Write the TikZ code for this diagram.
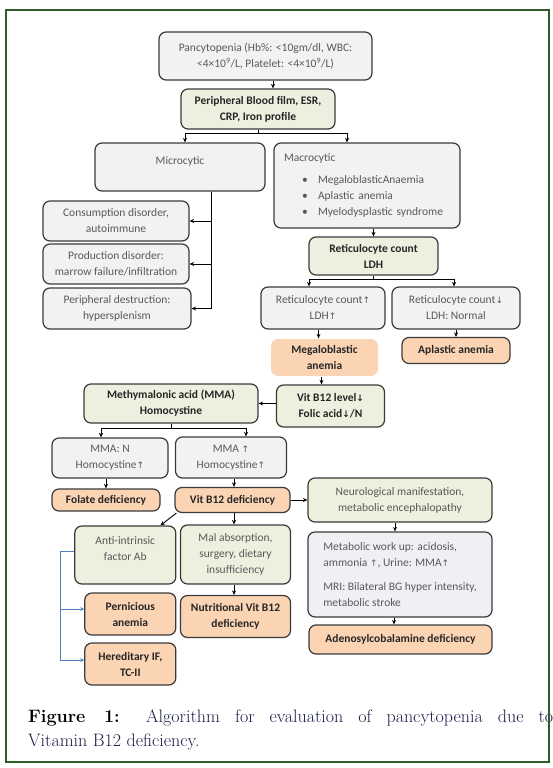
\documentclass[tikz,border=0pt]{standalone}
\usepackage{fontspec}
\newfontfamily\boxfont{Carlito}
\newfontfamily\symfont{DejaVu Sans}
\usetikzlibrary{arrows.meta}

% colours of the chart
\definecolor{framegreen}{HTML}{2F5B28}
\definecolor{boxline}{HTML}{3A3A3A}
\definecolor{boxgrey}{HTML}{F2F2F2}
\definecolor{metabgrey}{HTML}{EEF0F4}
\definecolor{boxgreen}{HTML}{EBF1DE}
\definecolor{boxorange}{HTML}{FBD4B4}
\definecolor{textgrey}{HTML}{595959}
\definecolor{textdark}{HTML}{262626}
\definecolor{linkblue}{HTML}{4F81BD}
\definecolor{capnavy}{HTML}{1A1E48}

% small arrows inside the texts
\newcommand{\uparr}{{\symfont\fontsize{9}{9}\selectfont ↑}}
\newcommand{\downarr}{{\symfont\fontsize{9}{9}\selectfont ↓}}

\tikzset{
    % box size in pixels
    dims/.style 2 args = {minimum width=#1pt, minimum height=#2pt},
    % basic box
    box/.style = {draw=boxline, line width=1.2pt, rounded corners=7pt, align=center, inner sep=2pt,
        font=\boxfont\fontsize{11.5}{16}\selectfont, text=textgrey},
    grey box/.style = {box, fill=boxgrey},
    green box/.style = {box, fill=boxgreen},
    green bold/.style = {green box, font=\boxfont\bfseries\fontsize{11.5}{16}\selectfont, text=textdark},
    orange box/.style = {box, fill=boxorange, font=\boxfont\bfseries\fontsize{11.5}{16}\selectfont, text=textdark},
    % connectors
    arrow/.style = {-{Stealth[length=4.5pt, width=4pt]}, line width=0.9pt},
    link/.style = {line width=0.9pt},
    blue arrow/.style = {-{Stealth[length=4pt, width=4pt]}, draw=linkblue, line width=0.8pt},
    % caption under the chart
    figcaption/.style = {anchor=north west, inner sep=0pt, text width=525pt, align=justify,
        font=\rmfamily\fontsize{18}{24}\selectfont, text=capnavy}
}

\begin{document}
\begin{tikzpicture}[x=1pt, y=-1pt]
    \useasboundingbox (0,0) rectangle (552,768);
    % top of the chart
    \node[grey box, dims={213}{48}] (pancy) at (265.5,56) {Pancytopenia (Hb\%: <10gm/dl, WBC:\\<4×10\textsuperscript{9}/L, Platelet: <4×10\textsuperscript{9}/L)};
    \node[green bold, dims={154}{40}] (blood) at (258,109) {Peripheral Blood film, ESR,\\CRP, Iron profile};
    \node[grey box, dims={170}{48}, text depth=13pt] (micro) at (180,167) {Microcytic};
    \node[grey box, dims={186}{85}, align=left, text width=166pt, inner xsep=10pt] (macro) at (367,185.5) {Macrocytic\\[6pt]
        \hspace*{18pt}\makebox[16pt][l]{\textbullet}MegaloblasticAnaemia\\
        \hspace*{18pt}\makebox[16pt][l]{\textbullet}Aplastic anemia\\
        \hspace*{18pt}\makebox[16pt][l]{\textbullet}Myelodysplastic syndrome};
    % microcytic branch
    \node[grey box, dims={146}{40}] (cons) at (116,221) {Consumption disorder,\\autoimmune};
    \node[grey box, dims={146}{40}] (prod) at (116,264) {Production disorder:\\marrow failure/infiltration};
    \node[grey box, dims={148}{41}] (perid) at (117,308.5) {Peripheral destruction:\\hypersplenism};
    % macrocytic branch
    \node[green bold, dims={129}{38}] (retic) at (373.5,256) {Reticulocyte count\\LDH};
    \node[grey box, dims={124}{42}] (retup) at (323,308) {Reticulocyte count\uparr\\LDH\uparr};
    \node[grey box, dims={128}{42}] (retdown) at (456,308) {Reticulocyte count\downarr\\LDH: Normal};
    \node[orange box, draw=none, dims={107}{37}] (megalo) at (324.5,357.5) {Megaloblastic\\anemia};
    \node[orange box, dims={108}{26}] (aplastic) at (456,350.5) {Aplastic anemia};
    \node[green bold, dims={108}{42}] (vitlvl) at (330.5,406) {Vit B12 level\downarr\\Folic acid\downarr/N};
    \node[green bold, dims={174}{39}] (mma) at (171,403.5) {Methymalonic acid (MMA)\\Homocystine};
    \node[grey box, dims={116}{40}] (mman) at (110,458) {MMA: N\\Homocystine\uparr};
    \node[grey box, dims={111}{41}] (mmaup) at (231,457.5) {MMA \uparr\\Homocystine\uparr};
    \node[orange box, dims={108}{22}] (folate) at (106,500) {Folate deficiency};
    \node[orange box, dims={115}{25}] (vitdef) at (232.5,500) {Vit B12 deficiency};
    % vitamin B12 deficiency
    \node[green box, dims={184}{44}] (neuro) at (400,500) {Neurological manifestation,\\metabolic encephalopathy};
    \node[box, fill=metabgrey, dims={184}{85}, align=left] (metab) at (400,574.5) {Metabolic work up: acidosis,\\ammonia \uparr, Urine: MMA\uparr\\[8pt]MRI: Bilateral BG hyper intensity,\\metabolic stroke};
    \node[orange box, dims={183}{29}] (adeno) at (400.5,639.5) {Adenosylcobalamine deficiency};
    \node[green box, dims={101}{58}, text depth=13pt] (anti) at (125.3,555) {Anti-intrinsic\\factor Ab};
    \node[green box, dims={110}{59}] (malab) at (235.5,554.5) {Mal absorption,\\surgery, dietary\\insufficiency};
    \node[orange box, dims={110}{42}] (nutri) at (235.5,616.5) {Nutritional Vit B12\\deficiency};
    \node[orange box, dims={91}{42}] (pern) at (130.3,614) {Pernicious\\anemia};
    \node[orange box, dims={91}{42}] (hered) at (130.3,664) {Hereditary IF,\\TC-II};

    % connectors
    \coordinate (top) at ([xshift=7.5pt]pancy.south);
    \draw[arrow] (top) -- (top |- blood.north);
    \coordinate (split1) at ([yshift=-4pt]blood.south);
    \draw[link] (blood.south) -- (split1);
    \draw[arrow] (split1) -| ([xshift=5pt]micro.north);
    \draw[arrow] (split1) -| ([xshift=-20pt]macro.north);
    \coordinate (spine) at ([xshift=31pt]micro.south);
    \draw[arrow] (spine) |- (perid.east);
    \draw[arrow] (spine |- cons.east) -- (cons.east);
    \draw[arrow] (spine |- prod.east) -- (prod.east);
    \draw[arrow] (macro.south -| retic.north) -- (retic.north);
    \coordinate (split2) at ([yshift=-4pt]retic.south);
    \draw[link] (retic.south) -- (split2);
    \draw[arrow] (split2) -| ([xshift=-14pt]retup.north);
    \draw[arrow] (split2) -| ([xshift=-2pt]retdown.north);
    \draw[arrow] ([xshift=-6pt]megalo.north |- retup.south) -- ([xshift=-6pt]megalo.north);
    \draw[arrow] (retdown.south -| aplastic.north) -- (aplastic.north);
    \draw[arrow] ([xshift=-3pt]megalo.south) -- ([xshift=-3pt]megalo.south |- vitlvl.north);
    \draw[arrow] (mma.east -| vitlvl.west) -- (mma.east);
    \coordinate (split3) at ([yshift=-4.5pt]mma.south);
    \draw[link] (mma.south) -- (split3);
    \draw[arrow] (split3) -| ([xshift=-9pt]mman.north);
    \draw[arrow] (split3) -| ([xshift=15pt]mmaup.north);
    \draw[arrow] (mman.south -| folate.north) -- (folate.north);
    \draw[arrow] ([xshift=3pt]mmaup.south) -- ([xshift=3pt]mmaup.south |- vitdef.north);
    \draw[arrow] (vitdef.east) -- (neuro.west);
    \draw[arrow] ([xshift=2pt]vitdef.south west) -- ([xshift=-16pt]anti.north east);
    \draw[arrow] ([xshift=1.5pt]vitdef.south) -- ([xshift=1.5pt]vitdef.south |- malab.north);
    \draw[arrow] ([xshift=-1.5pt]malab.south) -- ([xshift=-1.5pt]malab.south |- nutri.north);
    \draw[arrow] ([xshift=-5pt]neuro.south) -- ([xshift=-5pt]neuro.south |- metab.north);
    \draw[arrow] ([xshift=-6pt]metab.south) -- ([xshift=-6pt]metab.south |- adeno.north);
    % blue links of anti-intrinsic factor
    \coordinate (bluestub) at ([yshift=4pt]anti.west);
    \coordinate (bluespine) at ([xshift=-13.5pt]bluestub);
    \draw[blue arrow] (bluestub) -- (bluespine) |- ([yshift=4pt]hered.west);
    \draw[blue arrow] ([yshift=5pt]bluespine |- pern.west) -- ([yshift=5pt]pern.west);

    % caption and frame
    \node[figcaption] (cap) at (28,709.5) {{\color{black}\bfseries Figure 1:} Algorithm for evaluation of pancytopenia due to\linebreak Vitamin B12 deficiency.};
    \draw[framegreen, line width=2.2pt] (6,10) rectangle (549,762);
\end{tikzpicture}
\end{document}
